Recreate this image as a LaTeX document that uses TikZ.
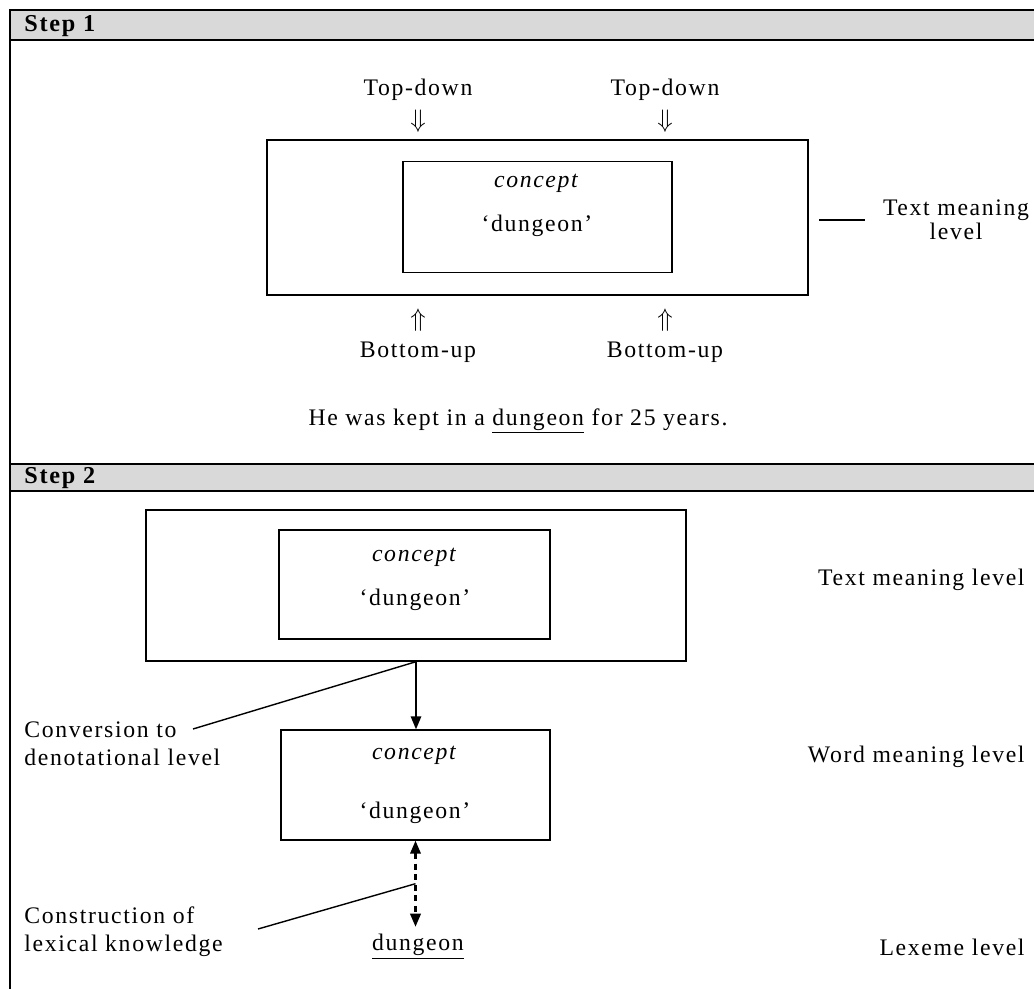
\documentclass[tikz,border=0pt]{standalone}
\usepackage{fontspec}
\setmainfont{Liberation Serif}[LetterSpace=7]
\usetikzlibrary{arrows.meta, calc, positioning}

\begin{document}
\begin{tikzpicture}[> = {Triangle[length = 2.6mm, width = 2.1mm]}, % arrow head style
        x = 0.02cm, y = -0.02cm, % pixel-like grid, y goes down
        thick % line style
    ]

    \tikzstyle{every node}=[inner sep = 1pt, font = \fontsize{13.5}{16}\selectfont]
    \tikzstyle{box}=[draw = black, rectangle, inner sep = 0pt]
    \tikzstyle{bar}=[draw = black, line width = 1.1pt, fill = black!15]
    \tikzstyle{head}=[anchor = west, font = \fontsize{13.8}{16}\selectfont\bfseries]

    \useasboundingbox (0,0) rectangle (1034,989);

    % frame and step bars
    \draw[line width = 1.1pt] (10,10) -- (10,995);
    \draw[bar] (10,10) rectangle (1045,40);
    \draw[bar] (10,464) rectangle (1045,491);
    \node[head] (s1) at (22,26) {Step 1};
    \node[head] (s2) at (22,478) {Step 2};

    % step 1
    \node[box, minimum width = 10.82cm, minimum height = 3.1cm] (outer1) at (537.5,217.5) {};
    \node[box, minimum width = 5.38cm, minimum height = 2.22cm] (inner1) at (537.5,217) {};
    \node (con1) at (537,183) {\textit{concept}};
    \node (dun1) at (537,226) {`dungeon'};

    \node (td1) at (418,90) {Top-down};
    \node (td2) at (665,90) {Top-down};
    \node (da1) [below of = td1, node distance = 0.62cm] {$\Downarrow$};
    \node (da2) [below of = td2, node distance = 0.62cm] {$\Downarrow$};

    \node (ua1) at (418,320) {$\Uparrow$};
    \node (ua2) at (665,320) {$\Uparrow$};
    \node (bu1) [below of = ua1, node distance = 0.64cm] {Bottom-up};
    \node (bu2) [below of = ua2, node distance = 0.64cm] {Bottom-up};

    \node[align = center, font = \fontsize{13.5}{13.5}\selectfont] (tml1) at (956,220) {Text meaning\\level};
    \draw ([xshift = -0.32cm]tml1.west) -- ++(-46,0);

    \node (sent) at (518,421) {He was kept in a \underline{dungeon} for 25 years.};

    % step 2
    \node[box, minimum width = 10.8cm, minimum height = 3.02cm] (outer2) at (416,585.5) {};
    \node[box, minimum width = 5.42cm, minimum height = 2.18cm] (inner2) at (414.5,584.5) {};
    \node (con2) at (415,557) {\textit{concept}};
    \node (dun2) at (415,600) {`dungeon'};

    \node[box, minimum width = 5.38cm, minimum height = 2.2cm] (word) at (415.5,785) {};
    \node (con3) at (415,755) {\textit{concept}};
    \node (dun3) at (415,813) {`dungeon'};
    \node[inner sep = 4pt] (lex) at (418,947) {\underline{dungeon}};

    \node[anchor = east] (tml2) at (1027,580) {Text meaning level};
    \node[anchor = east] (wml) at (1027,757) {Word meaning level};
    \node[anchor = east] (lxl) at (1027,947) {Lexeme level};

    \node[anchor = west, align = left] (conv) at (22,744) {Conversion to\\denotational level};
    \node[anchor = west, align = left] (cons) at (22,932) {Construction of\\lexical knowledge};

    \draw[->] (outer2.south) -- (outer2.south |- word.north);
    \coordinate (convend) at (193,729);
    \draw (outer2.south) -- (convend);

    \draw[<->, line width = 1.2pt, dash pattern = on 3.5pt off 2.5pt] (word.south) -- (word.south |- lex.north);
    \coordinate (mid) at ($(word.south)!0.5!(word.south |- lex.north)$);
    \coordinate (consend) at (258,929);
    \draw (mid) -- (consend);
\end{tikzpicture}
\end{document}
